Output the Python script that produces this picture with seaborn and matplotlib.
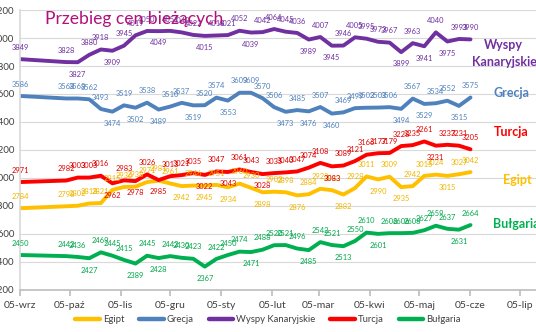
import matplotlib
matplotlib.use("Agg")
import matplotlib.pyplot as plt
import matplotlib.dates as mdates
import seaborn as sns
import pandas as pd
import numpy as np

# ---------------- data ----------------
dates = ["2020-09-05", "2020-10-03", "2020-10-10", "2020-10-17", "2020-10-24", "2020-10-31",
         "2020-11-07", "2020-11-14", "2020-11-21", "2020-11-28", "2020-12-05", "2020-12-12",
         "2020-12-19", "2020-12-26", "2021-01-02", "2021-01-09", "2021-01-16", "2021-01-23",
         "2021-01-30", "2021-02-06", "2021-02-13", "2021-02-20", "2021-02-27", "2021-03-06",
         "2021-03-13", "2021-03-20", "2021-03-27", "2021-04-03", "2021-04-10", "2021-04-17",
         "2021-04-24", "2021-05-01", "2021-05-08", "2021-05-15", "2021-05-22", "2021-05-29",
         "2021-06-05"]

egipt = [2784, 2798, 2802, 2818, 2821, 2915, 2936, 2938, 2971, 2981, 2961, 2942, 2946, 2945,
         2951, 2934, 2960, 2930, 2898, 2902, 2898, 2876, 2884, 2923, 2913, 2882, 2928, 3011,
         2990, 3009, 2935, 2942, 3015, 3024, 3015, 3027, 3042]
grecja = [3586, 3568, 3568, 3562, 3493, 3474, 3519, 3502, 3538, 3489, 3510, 3537, 3519, 3520,
          3574, 3553, 3609, 3609, 3570, 3506, 3473, 3485, 3476, 3507, 3460, 3469, 3499, 3502,
          3503, 3506, 3494, 3567, 3529, 3534, 3552, 3515, 3575]
kanary = [3849, 3828, 3827, 3880, 3918, 3909, 3945, 4019, 4050, 4049, 4051, 4040, 4022, 4015,
          4018, 4021, 4052, 4039, 4042, 4064, 4045, 4036, 3989, 4007, 3945, 3946, 4005, 3995,
          3973, 3967, 3899, 3963, 3941, 4040, 3975, 3993, 3990]
turcja = [2971, 2982, 3003, 3003, 3016, 2962, 2983, 2978, 3026, 2985, 3013, 3021, 3035, 3022,
          3047, 3043, 3061, 3043, 3028, 3035, 3040, 3047, 3074, 3108, 3083, 3089, 3121, 3166,
          3177, 3179, 3228, 3235, 3261, 3231, 3237, 3231, 3205]
bulgaria = [2450, 2442, 2436, 2427, 2469, 2445, 2415, 2389, 2445, 2428, 2442, 2430, 2423, 2367,
            2422, 2450, 2474, 2471, 2488, 2520, 2521, 2496, 2485, 2542, 2521, 2513, 2550, 2610,
            2601, 2606, 2606, 2608, 2627, 2659, 2637, 2631, 2664]

series_names = ["Egipt", "Grecja", "Wyspy Kanaryjskie", "Turcja", "Bułgaria"]
series_values = [egipt, grecja, kanary, turcja, bulgaria]
colors = ["#FFC000", "#4F81BD", "#7030A0", "#FF0000", "#00B050"]
label_colors = ["#F2B600", "#4F81BD", "#7030A0", "#E00000", "#00A84A"]

month_ticks = ["2020-09-05", "2020-10-05", "2020-11-05", "2020-12-05", "2021-01-05", "2021-02-05",
               "2021-03-05", "2021-04-05", "2021-05-05", "2021-06-05", "2021-07-05"]
month_labels = ["05-wrz", "05-paź", "05-lis", "05-gru", "05-sty", "05-lut", "05-mar", "05-kwi",
                "05-maj", "05-cze", "05-lip"]
y_ticks = [2200, 2400, 2600, 2800, 3000, 3200, 3400, 3600, 3800, 4000, 4200]

title = "Przebieg cen bieżących"
side_labels = [("Wyspy", 503, 45, "#7030A0"), ("Kanaryjskie", 504, 62, "#7030A0"),
               ("Grecja", 511, 93, "#4F81BD"), ("Turcja", 511, 132, "#FF0000"),
               ("Egipt", 517, 180, "#FFC000"), ("Bułgaria", 516, 224, "#00B050")]

# ---------------- dataframe ----------------
rows = []
for name, vals in zip(series_names, series_values):
    for d, v in zip(dates, vals):
        rows.append({"data": pd.Timestamp(d), "cena": v, "kierunek": name})
df = pd.DataFrame(rows)

# ---------------- figure ----------------
sns.set_theme(style="white")
plt.rcParams["font.family"] = ["Lato", "DejaVu Sans"]

W, H = 536, 332
fig = plt.figure(figsize=(W / 100, H / 100), dpi=100)
ax = fig.add_axes([20 / W, 42 / H, 516 / W, 280 / H])

sns.lineplot(data=df, x="data", y="cena", hue="kierunek", hue_order=series_names,
             palette=colors, linewidth=2.8, ax=ax, legend=True, sort=False)

# data labels: above the line, below at local minima
for name, vals, lc in zip(series_names, series_values, label_colors):
    n = len(vals)
    for i, (d, v) in enumerate(zip(dates, vals)):
        if 0 < i < n - 1:
            below = v < vals[i - 1] and v < vals[i + 1]
        else:
            below = False
        off = -8.5 if below else 8.5
        ax.annotate(str(v), (mdates.date2num(pd.Timestamp(d)), v), xytext=(0, off),
                    textcoords="offset points", ha="center", va="center",
                    fontsize=5.4, color=lc)

start = mdates.date2num(pd.Timestamp(month_ticks[0]))
end_tick = mdates.date2num(pd.Timestamp(month_ticks[-1]))
ax.set_xlim(start, start + (end_tick - start) * 516 / 500)
ax.set_ylim(y_ticks[0], y_ticks[-1])
ax.set_xticks([mdates.date2num(pd.Timestamp(t)) for t in month_ticks])
ax.set_xticklabels(month_labels)
ax.set_yticks(y_ticks)
ax.set_yticklabels([str(t) for t in y_ticks])
ax.set_xlabel("")
ax.set_ylabel("")

ax.grid(axis="y", color="#D9D9D9", linewidth=0.8)
ax.grid(axis="x", visible=False)
ax.set_axisbelow(True)
for s in ["top", "right"]:
    ax.spines[s].set_visible(False)
ax.spines["left"].set_color("#D9D9D9")
ax.spines["bottom"].set_color("#BFBFBF")
ax.tick_params(axis="x", direction="out", length=4, color="#BFBFBF", labelsize=7.5,
               labelcolor="#404040", pad=4, bottom=True)
ax.tick_params(axis="y", length=0, labelsize=7, labelcolor="#404040", pad=4)

# legend
handles, labels = ax.get_legend_handles_labels()
for h in handles:
    h.set_linewidth(3.2)
ax.legend_.remove()
fig.legend(handles, labels, loc="center", bbox_to_anchor=(268 / W, 1 - 320 / H), ncol=5,
           frameon=False, fontsize=6.8, handlelength=2.6, handletextpad=0.3,
           columnspacing=1.6, labelcolor="#404040")

# title
fig.text(134 / W, 1 - 19 / H, title, ha="center", va="center", fontsize=12.6,
         color="#B0127A")

# side series labels
for txt, x, y, c in side_labels:
    fig.text(x / W, 1 - y / H, txt, ha="center", va="center", fontsize=9,
             fontweight="bold", color=c)

fig.savefig("out.png", dpi=100)
